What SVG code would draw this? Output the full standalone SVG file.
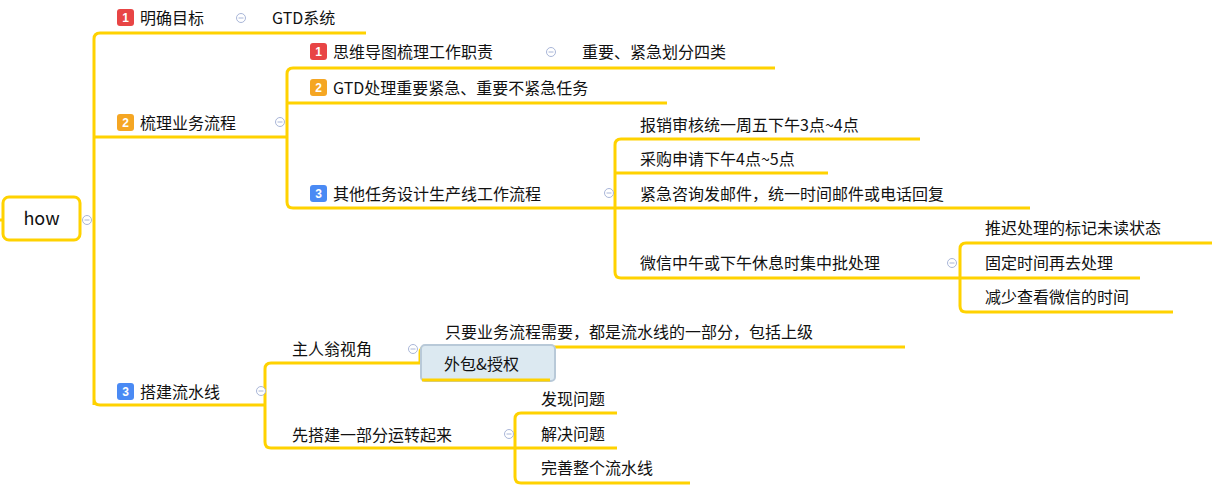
<svg xmlns="http://www.w3.org/2000/svg" width="1223" height="495" viewBox="0 0 1223 495">
<style>
.l{fill:none;stroke:#FFD200;stroke-width:3;stroke-linejoin:round}
text{font-family:"PingFang SC","Noto Sans CJK SC",sans-serif;font-size:16px;fill:#111}
.b text{fill:#fff;font-size:12px;font-weight:bold;font-family:"Liberation Sans",sans-serif}
.c{fill:#fff;stroke:#a9b6d8;stroke-width:1}
.cl{stroke:#a9b6d8;stroke-width:1}
</style>
<defs>
<g id="col"><circle class="c" r="4.5"/><line class="cl" x1="-2.5" x2="2.5" y1="0" y2="0"/></g>
</defs>
<rect width="1223" height="495" fill="#fff"/>
<g id="connectors">
<path class="l" d="M0 220H3"/>
<path class="l" d="M94 405V39q0-6 6-6H366M94 137H287M94 399q0 6 6 6H265"/>
<path class="l" d="M287 202V74q0-6 6-6H775M287 103H667M287 202q0 6 6 6H615"/>
<path class="l" d="M615 272V145q0-6 6-6H920M615 173H828M615 208H1030M615 272q0 6 6 6H960"/>
<path class="l" d="M960 306V249q0-6 6-6H1212M960 278H1140M960 306q0 6 6 6H1173"/>
<path class="l" d="M265 442V369q0-6 6-6H420M265 442q0 6 6 6H515"/>
<path class="l" d="M420 363V353q0-6 6-6H905"/>
<path class="l" d="M515 477V419q0-6 6-6H617M515 448H617M515 477q0 6 6 6H690"/>
</g>
<g id="root"><rect x="3" y="197" width="77" height="43" rx="6" fill="#fff" stroke="#FFD200" stroke-width="3"/><text x="41.5" y="225" text-anchor="middle" font-size="18" style="font-size:18px">how</text></g>
<g id="n1" class="b"><rect x="117" y="9" width="17" height="17" rx="3" fill="#e84545"/><text x="125.5" y="22" text-anchor="middle">1</text></g>
<g id="t1"><text x="140" y="24">明确目标</text></g>
<g id="t1a"><text x="272" y="24">GTD系统</text></g>
<g id="n2" class="b"><rect x="117" y="114" width="17" height="17" rx="3" fill="#f5a623"/><text x="125.5" y="127" text-anchor="middle">2</text></g>
<g id="t2"><text x="140" y="129">梳理业务流程</text></g>
<g id="n21" class="b"><rect x="310" y="43" width="17" height="17" rx="3" fill="#e84545"/><text x="318.5" y="56" text-anchor="middle">1</text></g>
<g id="t21"><text x="333" y="58">思维导图梳理工作职责</text></g>
<g id="t21a"><text x="582" y="58">重要、紧急划分四类</text></g>
<g id="n22" class="b"><rect x="310" y="79" width="17" height="17" rx="3" fill="#f5a623"/><text x="318.5" y="92" text-anchor="middle">2</text></g>
<g id="t22"><text x="333" y="94">GTD处理重要紧急、重要不紧急任务</text></g>
<g id="n23" class="b"><rect x="310" y="185" width="17" height="17" rx="3" fill="#4a8af4"/><text x="318.5" y="198" text-anchor="middle">3</text></g>
<g id="t23"><text x="333" y="200">其他任务设计生产线工作流程</text></g>
<g id="a1"><text x="640" y="131">报销审核统一周五下午3点~4点</text></g>
<g id="a2"><text x="640" y="165">采购申请下午4点~5点</text></g>
<g id="a3"><text x="640" y="200">紧急咨询发邮件，统一时间邮件或电话回复</text></g>
<g id="a4"><text x="640" y="269">微信中午或下午休息时集中批处理</text></g>
<g id="w1"><text x="985" y="234">推迟处理的标记未读状态</text></g>
<g id="w2"><text x="985" y="269">固定时间再去处理</text></g>
<g id="w3"><text x="985" y="303">减少查看微信的时间</text></g>
<g id="n3" class="b"><rect x="117" y="383" width="17" height="17" rx="3" fill="#4a8af4"/><text x="125.5" y="396" text-anchor="middle">3</text></g>
<g id="t3"><text x="140" y="398">搭建流水线</text></g>
<g id="t31"><text x="292" y="355">主人翁视角</text></g>
<g id="t311"><text x="445" y="338">只要业务流程需要，都是流水线的一部分，包括上级</text></g>
<g id="t312"><rect x="421" y="345" width="134" height="36" rx="4" fill="#dce9f1" stroke="#b8c9d8" stroke-width="2"/><path class="l" d="M422 380H550"/><text x="444" y="370">外包&amp;授权</text></g>
<g id="t32"><text x="292" y="441">先搭建一部分运转起来</text></g>
<g id="b1"><text x="541" y="405">发现问题</text></g>
<g id="b2"><text x="541" y="440">解决问题</text></g>
<g id="b3"><text x="541" y="474">完善整个流水线</text></g>
<g id="collapsers">
<use href="#col" x="87" y="220"/><use href="#col" x="241" y="18"/><use href="#col" x="280" y="122"/><use href="#col" x="551" y="52"/><use href="#col" x="609" y="193"/><use href="#col" x="952" y="263"/><use href="#col" x="261" y="391"/><use href="#col" x="413" y="349"/><use href="#col" x="509" y="434"/>
</g>
</svg>
